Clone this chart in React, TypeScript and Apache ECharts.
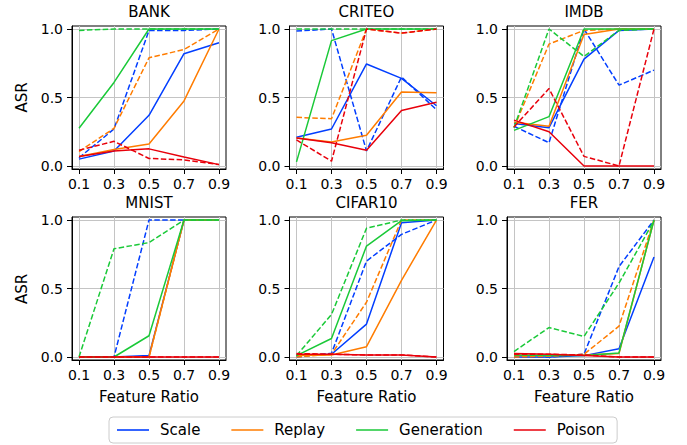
import React, { useEffect, useRef } from "react";
import * as echarts from "echarts";

const ratios = [0.1, 0.3, 0.5, 0.7, 0.9];
const methods = ["Scale", "Replay", "Generation", "Poison"];
const colors = ["#023eff", "#ff7c00", "#1ac938", "#e8000b"];
const yTicks = [0, 0.5, 1];
const datasets = ["BANK", "CRITEO", "IMDB", "MNIST", "CIFAR10", "FER"];

// solid = first variant, dashed = second variant, per method
const BANK_SOLID = [
  [0.05, 0.11, 0.37, 0.82, 0.9],
  [0.07, 0.12, 0.16, 0.475, 1.0],
  [0.275, 0.61, 1.0, 1.0, 1.0],
  [0.07, 0.11, 0.125, 0.065, 0.01],
];
const BANK_DASH = [
  [0.06, 0.27, 0.99, 0.99, 1.0],
  [0.105, 0.275, 0.79, 0.85, 1.0],
  [0.99, 1.0, 1.0, 1.0, 1.0],
  [0.115, 0.18, 0.055, 0.045, 0.01],
];
const CRITEO_SOLID = [
  [0.21, 0.27, 0.745, 0.64, 0.44],
  [0.205, 0.175, 0.225, 0.54, 0.535],
  [0.03, 0.915, 1.0, 1.0, 1.0],
  [0.205, 0.17, 0.115, 0.405, 0.465],
];
const CRITEO_DASH = [
  [0.985, 1.0, 0.11, 0.65, 0.41],
  [0.355, 0.345, 1.0, 0.97, 1.0],
  [1.0, 1.0, 1.0, 1.0, 1.0],
  [0.19, 0.035, 1.0, 0.97, 1.0],
];
const IMDB_SOLID = [
  [0.31, 0.28, 0.78, 0.99, 1.0],
  [0.32, 0.29, 0.96, 1.0, 1.0],
  [0.26, 0.36, 1.0, 1.0, 1.0],
  [0.335, 0.25, 0.0, 0.0, 0.0],
];
const IMDB_DASH = [
  [0.29, 0.17, 1.0, 0.59, 0.7],
  [0.28, 0.89, 0.99, 1.0, 1.0],
  [0.28, 1.0, 0.8, 0.99, 1.0],
  [0.285, 0.565, 0.07, 0.0, 1.0],
];
const MNIST_SOLID = [
  [0.0, 0.0, 0.01, 1.0, 1.0],
  [0.0, 0.0, 0.0, 1.0, 1.0],
  [0.0, 0.0, 0.155, 1.0, 1.0],
  [0.0, 0.0, 0.0, 0.0, 0.0],
];
const MNIST_DASH = [
  [0.0, 0.0, 1.0, 1.0, 1.0],
  [0.0, 0.0, 0.0, 1.0, 1.0],
  [0.0, 0.79, 0.835, 1.0, 1.0],
  [0.0, 0.0, 0.0, 0.0, 0.0],
];
const CIFAR10_SOLID = [
  [0.01, 0.02, 0.24, 0.98, 1.0],
  [0.01, 0.015, 0.075, 0.56, 1.0],
  [0.01, 0.135, 0.81, 0.995, 1.0],
  [0.02, 0.02, 0.015, 0.015, 0.0],
];
const CIFAR10_DASH = [
  [0.0, 0.027, 0.7, 0.895, 1.0],
  [0.0, 0.02, 0.4, 1.0, 1.0],
  [0.01, 0.31, 0.94, 1.0, 1.0],
  [0.025, 0.02, 0.015, 0.015, 0.0],
];
const FER_SOLID = [
  [0.0, 0.0, 0.01, 0.06, 0.73],
  [0.01, 0.01, 0.015, 0.025, 1.0],
  [0.015, 0.01, 0.01, 0.03, 1.0],
  [0.025, 0.02, 0.01, 0.0, 0.0],
];
const FER_DASH = [
  [0.0, 0.0, 0.02, 0.66, 1.0],
  [0.0, 0.005, 0.02, 0.225, 1.0],
  [0.04, 0.215, 0.15, 0.54, 0.995],
  [0.02, 0.02, 0.015, 0.0, 0.0],
];

const SOLIDS = [BANK_SOLID, CRITEO_SOLID, IMDB_SOLID, MNIST_SOLID, CIFAR10_SOLID, FER_SOLID];
const DASHES = [BANK_DASH, CRITEO_DASH, IMDB_DASH, MNIST_DASH, CIFAR10_DASH, FER_DASH];

const FONT = "DejaVu Sans";
const lefts = [72, 289.5, 507];
const tops = [26, 217];
const W = 154;
const H = 143;

export default function App() {
  const ref = useRef<HTMLDivElement>(null);
  useEffect(() => {
    document.body.style.margin = "0";
    if (!ref.current) return;
    const chart = echarts.init(ref.current, null, { renderer: "svg" });

    const grids: any[] = [];
    const xAxes: any[] = [];
    const yAxes: any[] = [];
    const series: any[] = [];
    const graphics: any[] = [];

    datasets.forEach((name, i) => {
      const col = i % 3;
      const row = Math.floor(i / 3);
      const left = lefts[col];
      const top = tops[row];
      grids.push({
        left,
        top,
        width: W,
        height: H,
        show: true,
        borderColor: "#000",
        borderWidth: 1,
        backgroundColor: "transparent",
      });
      xAxes.push({
        gridIndex: i,
        type: "value",
        min: 0.06,
        max: 0.94,
        axisLine: { show: true, onZero: false, lineStyle: { color: "#000", width: 1 } },
        axisTick: { show: true, length: 5, customValues: ratios, lineStyle: { color: "#000" } },
        axisLabel: {
          customValues: ratios,
          formatter: (v: number) => v.toFixed(1),
          fontSize: 14,
          margin: 8,
          color: "#000",
          fontFamily: FONT,
        },
        splitLine: { show: true, lineStyle: { color: "#c4c4c4", width: 1 } },
      });
      yAxes.push({
        gridIndex: i,
        type: "value",
        min: -0.022,
        max: 1.022,
        axisLine: { show: true, onZero: false, lineStyle: { color: "#000", width: 1 } },
        axisTick: { show: true, length: 5, customValues: yTicks, lineStyle: { color: "#000" } },
        axisLabel: {
          customValues: yTicks,
          formatter: (v: number) => v.toFixed(1),
          fontSize: 14,
          margin: 9,
          color: "#000",
          fontFamily: FONT,
        },
        splitLine: { show: true, lineStyle: { color: "#c4c4c4", width: 1 } },
      });
      methods.forEach((m, k) => {
        series.push({
          type: "line",
          name: m,
          xAxisIndex: i,
          yAxisIndex: i,
          symbol: "none",
          data: ratios.map((x, j) => [x, SOLIDS[i][k][j]]),
          lineStyle: { color: colors[k], width: 1.5 },
          itemStyle: { color: colors[k] },
          silent: true,
        });
        series.push({
          type: "line",
          name: m + " (dashed)",
          xAxisIndex: i,
          yAxisIndex: i,
          symbol: "none",
          data: ratios.map((x, j) => [x, DASHES[i][k][j]]),
          lineStyle: { color: colors[k], width: 1.5, type: [5.5, 2.4] },
          itemStyle: { color: colors[k] },
          silent: true,
        });
      });
      graphics.push({
        type: "text",
        x: left + W / 2,
        y: row === 0 ? 12 : 203,
        style: {
          text: name,
          fontSize: 15,
          fontFamily: FONT,
          fill: "#000",
          textAlign: "center",
          textVerticalAlign: "middle",
          align: "center",
          verticalAlign: "middle",
        },
      });
      if (row === 1) {
        graphics.push({
          type: "text",
          x: left + W / 2,
          y: 397,
          style: {
            text: "Feature Ratio",
            fontSize: 15,
            fontFamily: FONT,
            fill: "#000",
            textAlign: "center",
            textVerticalAlign: "middle",
            align: "center",
            verticalAlign: "middle",
          },
        });
      }
    });
    [97.5, 289].forEach((cy) => {
      graphics.push({
        type: "text",
        x: 22,
        y: cy,
        rotation: Math.PI / 2,
        style: {
          text: "ASR",
          fontSize: 15,
          fontFamily: FONT,
          fill: "#000",
          textAlign: "center",
          textVerticalAlign: "middle",
          align: "center",
          verticalAlign: "middle",
        },
      });
    });

    chart.setOption({
      animation: false,
      backgroundColor: "#fff",
      grid: grids,
      xAxis: xAxes,
      yAxis: yAxes,
      series,
      graphic: graphics,
      legend: {
        data: methods,
        left: 109,
        top: 417,
        orient: "horizontal",
        icon: "rect",
        padding: [5, 12, 5, 8],
        itemWidth: 32,
        itemHeight: 1.6,
        itemGap: 31,
        borderColor: "#cccccc",
        borderWidth: 1,
        borderRadius: 4,
        backgroundColor: "#fff",
        textStyle: {
          fontSize: 15,
          fontFamily: FONT,
          color: "#000",
          lineHeight: 16,
          padding: [0, 0, 0, 6],
        },
        selectedMode: false,
      },
    });
    return () => chart.dispose();
  }, []);
  return <div ref={ref} style={{ width: 687, height: 445 }} />;
}
